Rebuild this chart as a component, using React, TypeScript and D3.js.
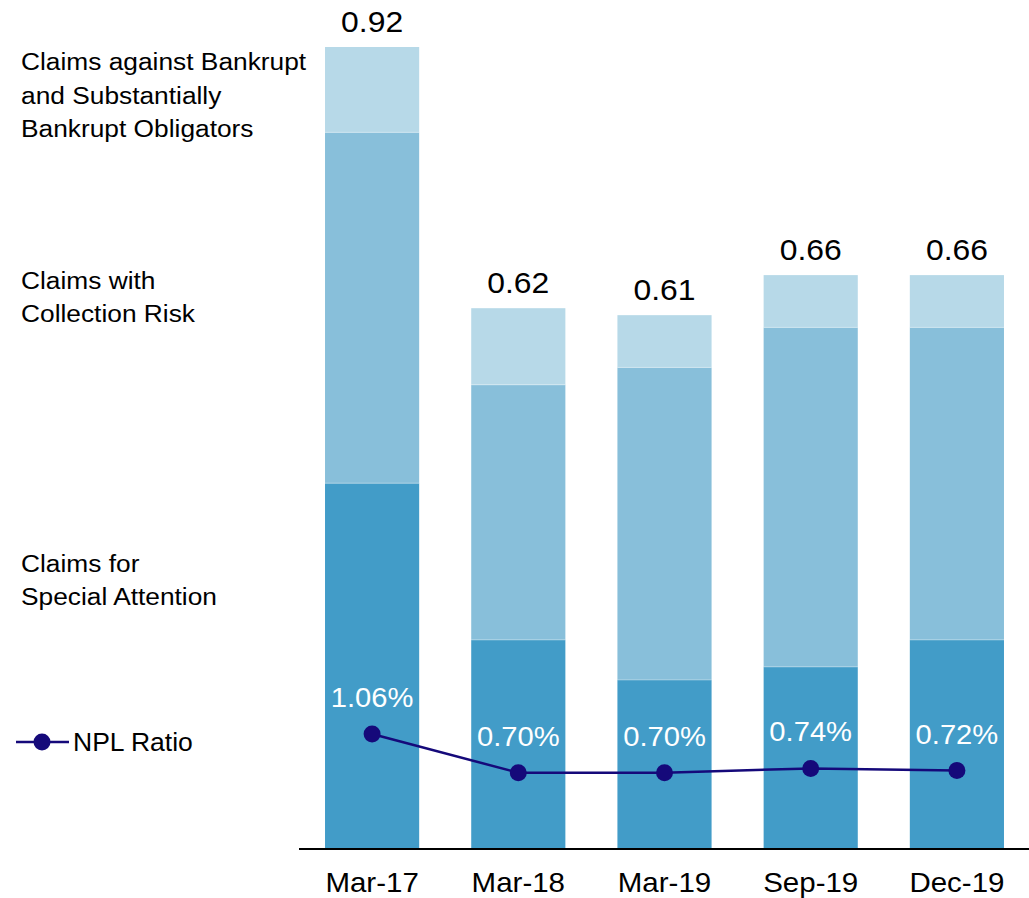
import React from "react";
import * as d3 from "d3";

const categories = ["Mar-17", "Mar-18", "Mar-19", "Sep-19", "Dec-19"];
const specialAttention = [0.419, 0.239, 0.193, 0.208, 0.239];
const collectionRisk = [0.403, 0.293, 0.359, 0.39, 0.359];
const bankrupt = [0.098, 0.088, 0.06, 0.06, 0.06];
const totalLabels = ["0.92", "0.62", "0.61", "0.66", "0.66"];
const nplRatio = [1.06, 0.7, 0.7, 0.74, 0.72];
const nplLabels = ["1.06%", "0.70%", "0.70%", "0.74%", "0.72%"];
const seriesNames = [
  ["Claims for", "Special Attention"],
  ["Claims with", "Collection Risk"],
  ["Claims against Bankrupt", "and Substantially", "Bankrupt Obligators"],
];
const colors = ["#429cc8", "#88bfda", "#b7d9e8"];
const lineColor = "#15097a";

const W = 1029;
const H = 898;
const baseY = 848;
const FONT = "Liberation Sans, Arial, sans-serif";

function SText({ x, y, size, sx = 1.08, fill = "#000", anchor = "start", children }: any) {
  return (
    <text
      transform={`translate(${x},${y}) scale(${sx},1)`}
      fontSize={size}
      fontFamily={FONT}
      fill={fill}
      textAnchor={anchor}
    >
      {children}
    </text>
  );
}

export default function App() {
  const x = d3.scaleBand<string>().domain(categories).range([299, 1030]).paddingInner(0.356).paddingOuter(0.178);
  const y = d3.scaleLinear().domain([0, 0.92]).range([baseY, 47]);
  const y2 = d3.scaleLinear().domain([0, 1.06]).range([baseY, 734]);

  const data = categories.map((c, i) => ({
    cat: c,
    special: specialAttention[i],
    collection: collectionRisk[i],
    bankrupt: bankrupt[i],
  }));
  const stack = d3.stack<any>().keys(["special", "collection", "bankrupt"])(data);

  const cx = (c: string) => (x(c) as number) + x.bandwidth() / 2;
  const line = d3
    .line<number>()
    .x((_, i) => cx(categories[i]))
    .y((d) => y2(d));

  const legendY = [[572, 605], [289, 322], [70, 104, 137]];

  return (
    <svg width={W} height={H} style={{ position: "absolute", left: 0, top: 0 }}>
      <rect width={W} height={H} fill="#fff" />
      {stack.map((s, si) =>
        s.map((d, i) => (
          <rect
            key={`${si}-${i}`}
            x={x(categories[i])}
            y={y(d[1])}
            width={x.bandwidth()}
            height={y(d[0]) - y(d[1])}
            fill={colors[si]}
          />
        ))
      )}
      {stack.slice(1).map((s, si) =>
        s.map((d, i) => (
          <line
            key={`sep-${si}-${i}`}
            x1={x(categories[i])}
            x2={(x(categories[i]) as number) + x.bandwidth()}
            y1={y(d[0])}
            y2={y(d[0])}
            stroke="#ffffff"
            strokeOpacity={0.35}
            strokeWidth={1}
          />
        ))
      )}
      <line x1={299} x2={1029} y1={baseY + 1} y2={baseY + 1} stroke="#000" strokeWidth={2} />
      {totalLabels.map((t, i) => {
        const top = specialAttention[i] + collectionRisk[i] + bankrupt[i];
        return (
          <SText key={t + i} x={cx(categories[i])} y={y(top) - 15} size={29.5} anchor="middle">
            {t}
          </SText>
        );
      })}
      {categories.map((c) => (
        <SText key={c} x={cx(c)} y={892} size={27.3} anchor="middle">
          {c}
        </SText>
      ))}
      <path d={line(nplRatio) as string} fill="none" stroke={lineColor} strokeWidth={2.5} />
      {nplRatio.map((v, i) => (
        <circle key={i} cx={cx(categories[i])} cy={y2(v)} r={8.5} fill={lineColor} />
      ))}
      {nplLabels.map((t, i) => (
        <SText key={t + i} x={cx(categories[i])} y={y2(nplRatio[i]) - 27} size={27} fill="#fff" anchor="middle">
          {t}
        </SText>
      ))}
      {seriesNames.map((lines, si) =>
        lines.map((l, li) => (
          <SText key={`${si}-${li}`} x={21} y={legendY[si][li]} size={23.5} sx={1.12}>
            {l}
          </SText>
        ))
      )}
      <line x1={16} x2={69} y1={742} y2={742} stroke={lineColor} strokeWidth={2.5} />
      <circle cx={42} cy={742} r={8.5} fill={lineColor} />
      <SText x={73} y={751} size={25.5} sx={1.04}>
        NPL Ratio
      </SText>
    </svg>
  );
}
